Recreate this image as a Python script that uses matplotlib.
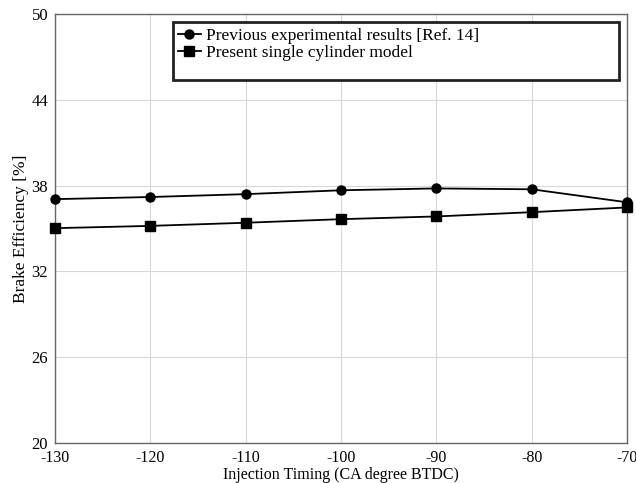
import numpy as np
import matplotlib
matplotlib.use('Agg')
import matplotlib.pyplot as plt
from matplotlib.patches import Rectangle

plt.rcParams['font.family'] = ['Liberation Serif', 'DejaVu Serif']
plt.rcParams['axes.unicode_minus'] = False

timing = [-130, -120, -110, -100, -90, -80, -70]
experimental = [37.05, 37.2, 37.4, 37.67, 37.8, 37.74, 36.83]
model = [35.02, 35.18, 35.4, 35.65, 35.84, 36.14, 36.47]

fig = plt.figure(figsize=(6.36, 4.83), dpi=100)
ax = fig.add_axes([0.0865, 0.083, 0.8995, 0.888])

ax.plot(timing, experimental, '-o', color='black', lw=1.3, ms=6.5,
        label='Previous experimental results [Ref. 14]', clip_on=False, zorder=3)
ax.plot(timing, model, '-s', color='black', lw=1.3, ms=7,
        label='Present single cylinder model', clip_on=False, zorder=3)

ax.set_xlim(-130, -70)
ax.set_ylim(20, 50)
ax.set_xticks(np.arange(-130, -69, 10))
ax.set_yticks(np.arange(20, 51, 6))
ax.grid(True, color='#d8d8d8', lw=0.8)
ax.tick_params(length=0)
ax.tick_params(axis='x', labelsize=11.5, pad=5)
ax.tick_params(axis='y', labelsize=12, pad=5)
for s in ax.spines.values():
    s.set_color('#666666')
    s.set_linewidth(1.0)

ax.set_xlabel('Injection Timing (CA degree BTDC)', fontsize=11.5, labelpad=1)
ax.set_ylabel('Brake Efficiency [%]', fontsize=12.5, labelpad=2)

# legend box
ax.add_patch(Rectangle((0.206, 0.846), 0.779, 0.136, transform=ax.transAxes,
                       facecolor='white', edgecolor='#222222', lw=2, zorder=4))
leg = ax.legend(loc='upper left', bbox_to_anchor=(0.209, 0.975), frameon=False,
                fontsize=12.5, handlelength=1.3, handletextpad=0.3,
                borderpad=0.2, labelspacing=0.05, borderaxespad=0.0)
leg.set_zorder(5)

fig.savefig('out.png', dpi=100)
